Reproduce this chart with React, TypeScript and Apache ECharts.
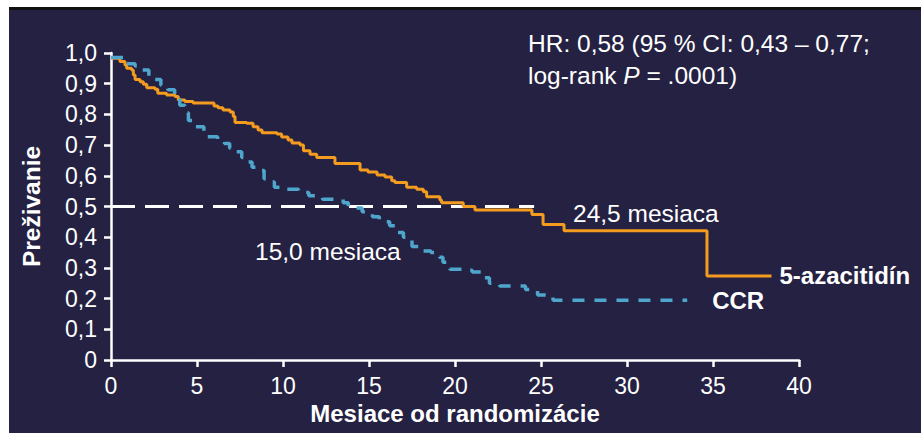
import React, { useEffect, useRef } from "react";
import * as echarts from "echarts";

// 5-azacitidín survival (Kaplan–Meier steps)
const azaTimes = [0, 0.52, 0.81, 0.91, 1.2, 1.3, 1.4, 1.69, 1.88, 2.08, 2.56, 2.72, 3.23, 3.72, 3.91, 4.3, 4.77, 5.99, 6.22, 6.51, 6.92, 7.11, 7.21, 7.89, 8.26, 8.55, 8.78, 9.65, 9.92, 10.29, 10.52, 10.99, 11.19, 11.57, 11.96, 13.02, 14.48, 14.94, 15.47, 15.93, 16.32, 16.51, 17.19, 17.77, 18.16, 18.35, 19.12, 19.22, 20.48, 21.16, 24.47, 25.12, 26.34, 34.65, 38.4];
const azaSurv = [0.983, 0.972, 0.961, 0.95, 0.945, 0.928, 0.914, 0.906, 0.898, 0.887, 0.882, 0.869, 0.863, 0.858, 0.847, 0.842, 0.837, 0.827, 0.822, 0.814, 0.808, 0.793, 0.774, 0.771, 0.76, 0.749, 0.74, 0.736, 0.726, 0.717, 0.707, 0.7, 0.682, 0.67, 0.66, 0.64, 0.619, 0.612, 0.603, 0.596, 0.584, 0.578, 0.563, 0.556, 0.548, 0.532, 0.521, 0.512, 0.5, 0.489, 0.474, 0.441, 0.421, 0.274, 0.274];

// CCR survival
const ccrTimes = [0, 0.8, 1.4, 1.7, 2.2, 2.5, 2.9, 3.3, 3.7, 4.0, 4.3, 4.5, 4.8, 5.4, 5.6, 6.2, 6.6, 6.9, 7.2, 7.6, 7.9, 8.2, 8.6, 8.9, 9.3, 9.5, 9.9, 10.9, 11.5, 12.3, 13.5, 13.8, 14.6, 15.2, 15.6, 16.2, 16.6, 17.0, 17.5, 18.0, 18.6, 19.1, 19.3, 19.7, 20.5, 21.0, 21.7, 22.0, 22.6, 24.1, 24.8, 25.7, 33.5];
const ccrSurv = [0.985, 0.965, 0.958, 0.945, 0.925, 0.914, 0.895, 0.88, 0.85, 0.83, 0.805, 0.78, 0.76, 0.742, 0.727, 0.712, 0.705, 0.69, 0.678, 0.66, 0.645, 0.628, 0.617, 0.59, 0.58, 0.563, 0.556, 0.546, 0.535, 0.524, 0.512, 0.495, 0.483, 0.467, 0.45, 0.437, 0.415, 0.4, 0.37, 0.355, 0.35, 0.335, 0.318, 0.296, 0.292, 0.287, 0.268, 0.25, 0.241, 0.23, 0.212, 0.195, 0.195];

// median reference line (survival 0.5 up to 24.5 months)
const medianTimes = [0, 24.6];
const medianSurv = [0.5, 0.5];

const xTicks = { min: 0, max: 40, interval: 5 };
const yTicks = { min: 0, max: 1, interval: 0.1 };

const seriesNames = ["5-azacitidín", "CCR"];
const medianLabels = ["24,5 mesiaca", "15,0 mesiaca"];
const hrLine1 = "HR: 0,58 (95 % CI: 0,43 – 0,77;";

const FONT = "'Liberation Sans', Arial, sans-serif";
const BG = "#252142";
const ORANGE = "#F39C1F";
const BLUE = "#4FA6CC";

const zip = (a: number[], b: number[]) => a.map((v, i) => [v, b[i]]);

export default function App() {
  const ref = useRef<HTMLDivElement>(null);
  useEffect(() => {
    if (!ref.current) return;
    const chart = echarts.init(ref.current, undefined, { renderer: "svg" });
    const axisLine = { show: true, lineStyle: { color: "#fff", width: 2.5 } };
    chart.setOption({
      animation: false,
      backgroundColor: BG,
      grid: { left: 111, right: 122, top: 53, bottom: 73, containLabel: false },
      xAxis: {
        type: "value",
        min: xTicks.min,
        max: xTicks.max,
        interval: xTicks.interval,
        name: "Mesiace od randomizácie",
        nameLocation: "middle",
        nameGap: 35,
        nameTextStyle: { color: "#fff", fontSize: 24, fontWeight: "bold", fontFamily: FONT },
        axisLine,
        axisTick: { show: true, length: 7, lineStyle: { color: "#fff", width: 2.5 } },
        axisLabel: { color: "#fff", fontSize: 23, fontFamily: FONT, margin: 14 },
        splitLine: { show: false },
      },
      yAxis: {
        type: "value",
        min: yTicks.min,
        max: yTicks.max,
        interval: yTicks.interval,
        name: "Preživanie",
        nameLocation: "middle",
        nameGap: 67,
        nameRotate: 90,
        nameTextStyle: { color: "#fff", fontSize: 24.5, fontWeight: "bold", fontFamily: FONT },
        axisLine,
        axisTick: { show: true, length: 7, lineStyle: { color: "#fff", width: 2.5 } },
        axisLabel: {
          color: "#fff",
          fontSize: 23,
          fontFamily: FONT,
          margin: 14,
          formatter: (v: number) => (v === 0 ? "0" : v.toFixed(1).replace(".", ",")),
        },
        splitLine: { show: false },
      },
      series: [
        {
          type: "line",
          name: "median",
          data: zip(medianTimes, medianSurv),
          symbol: "none",
          lineStyle: { color: "#fff", width: 3, type: [24, 10] },
          z: 1,
        },
        {
          type: "line",
          name: seriesNames[0],
          data: zip(azaTimes, azaSurv),
          step: "end",
          symbol: "none",
          lineStyle: { color: ORANGE, width: 3 },
          endLabel: {
            show: true,
            formatter: seriesNames[0],
            color: "#fff",
            fontSize: 24,
            fontWeight: "bold",
            fontFamily: FONT,
            distance: 8,
          },
          z: 2,
        },
        {
          type: "line",
          name: seriesNames[1],
          data: zip(ccrTimes, ccrSurv),
          step: "end",
          symbol: "none",
          lineStyle: { color: BLUE, width: 3.5, type: [12, 10] },
          endLabel: {
            show: true,
            formatter: seriesNames[1],
            color: "#fff",
            fontSize: 24,
            fontWeight: "bold",
            fontFamily: FONT,
            distance: 25,
          },
          z: 3,
        },
      ],
      graphic: [
        { type: "rect", shape: { x: 0, y: 0, width: 921, height: 7 }, style: { fill: "#fff" }, silent: true },
        { type: "rect", shape: { x: 0, y: 0, width: 9, height: 433 }, style: { fill: "#fff" }, silent: true },
        { type: "rect", shape: { x: 9, y: 7, width: 912, height: 3 }, style: { fill: "#111" }, silent: true },
        {
          type: "text",
          x: 528,
          y: 43,
          style: { text: hrLine1, fill: "#fff", font: `24.5px ${FONT}`, verticalAlign: "middle", align: "left" },
        },
        {
          type: "text",
          x: 528,
          y: 75.5,
          style: {
            text: "{a|log-rank }{b|P}{a| = .0001)}",
            verticalAlign: "middle",
            align: "left",
            rich: {
              a: { fill: "#fff", fontSize: 24.5, fontFamily: FONT },
              b: { fill: "#fff", fontSize: 24.5, fontFamily: FONT, fontStyle: "italic" },
            },
          },
        },
        {
          type: "text",
          x: 573,
          y: 213.5,
          style: { text: medianLabels[0], fill: "#fff", font: `24.5px ${FONT}`, verticalAlign: "middle", align: "left" },
        },
        {
          type: "text",
          x: 255,
          y: 251,
          style: { text: medianLabels[1], fill: "#fff", font: `24.5px ${FONT}`, verticalAlign: "middle", align: "left" },
        },
      ],
    });
    return () => chart.dispose();
  }, []);
  return (
    <div
      ref={ref}
      style={{ position: "absolute", left: 0, top: 0, width: 921, height: 433 }}
    />
  );
}
